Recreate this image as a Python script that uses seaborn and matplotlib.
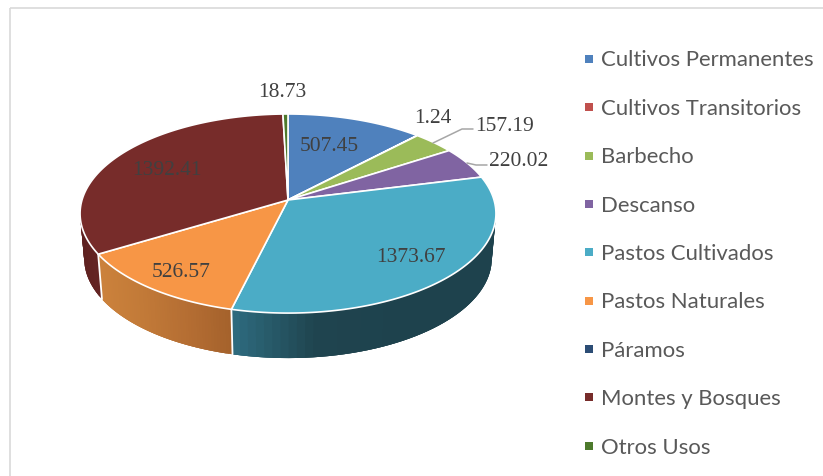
import numpy as np
import matplotlib
matplotlib.use("Agg")
import matplotlib.pyplot as plt
from matplotlib.lines import Line2D
from matplotlib.patches import Polygon, Rectangle
import seaborn as sns

categories = ["Cultivos Permanentes", "Cultivos Transitorios", "Barbecho", "Descanso",
              "Pastos Cultivados", "Pastos Naturales", "Páramos", "Montes y Bosques", "Otros Usos"]
values = [507.45, 1.24, 157.19, 220.02, 1373.67, 526.57, 0.0, 1392.41, 18.73]
labels = ["507.45", "1.24", "157.19", "220.02", "1373.67", "526.57", "", "1392.41", "18.73"]
colors = ["#4F81BD", "#C0504D", "#9BBB59", "#8064A2", "#4BACC6", "#F79646", "#2C4D75", "#772C2A", "#4D7A2C"]

# side wall shades, left to right, only for the slices that show a wall
wall_shades = {
    "Pastos Cultivados": ["#2F6E82", "#1F444F", "#1E424D", "#1E424D"],
    "Pastos Naturales": ["#CC823C", "#C27A38", "#B56E33", "#A5622C"],
    "Montes y Bosques": ["#5E2120", "#622322", "#632423", "#632423"],
}

label_pos = [(329, 146.5), (433, 118.5), (505, 126.5), (519, 161.5), (411, 258), (181, 272.5), None, (167, 170.5), (282, 92.5)]

# pie geometry in pixels, perspective tilted
cx, cy = 288, 200
a, b, k = 206, 97.7, 0.136
depth = 45
bottom_scale = 0.98

sns.set_theme(style="white")
palette = sns.color_palette(colors)

fig = plt.figure(figsize=(8.23, 4.76), dpi=100)
ax = fig.add_axes([0, 0, 1, 1])
ax.set_xlim(0, 823)
ax.set_ylim(476, 0)
ax.axis("off")


def rim(theta_deg):
    t = np.radians(theta_deg)
    d = 1 + k * np.cos(t)
    return a * np.sin(t) / d, -b * np.cos(t) / d


ax.add_patch(Rectangle((10, 7.5), 900, 600, fill=False, ec="#D9D9D9", lw=1.2, zorder=1))

bounds = np.concatenate([[0], np.cumsum(values)]) / np.sum(values) * 360

# side wall, drawn as strips so the shading can change along it
# each strip runs on under the next one, otherwise thin gaps show between them
for i, name in enumerate(categories):
    if name not in wall_shades:
        continue
    start, end = max(bounds[i], 70), min(bounds[i + 1], 290)
    th = np.linspace(start, end, 60)
    x, y = rim(th)
    x_top, y_top = cx + x, cy + y
    x_bot, y_bot = cx + x * bottom_scale, cy + y + depth
    shade = np.array([matplotlib.colors.to_rgb(c) for c in wall_shades[name]])
    pos = (x_top - x_top.min()) / (x_top.max() - x_top.min())
    for j in range(len(th) - 1):
        e = min(j + 3, len(th) - 1)
        c = [np.interp(pos[j], np.linspace(0, 1, len(shade)), shade[:, n]) for n in range(3)]
        ax.fill(np.r_[x_top[j:e + 1], x_bot[j:e + 1][::-1]],
                np.r_[y_top[j:e + 1], y_bot[j:e + 1][::-1]],
                color=c, lw=0, zorder=2)

# white seams on the wall
for th in [bounds[5], bounds[6]]:
    x, y = rim(th)
    ax.plot([cx + x, cx + x * bottom_scale], [cy + y, cy + y + depth], color="white", lw=1.3, zorder=3)

# top surface
for i, v in enumerate(values):
    if v == 0:
        continue
    th = np.linspace(bounds[i], bounds[i + 1], max(int(bounds[i + 1] - bounds[i]) * 2, 4))
    x, y = rim(th)
    pts = np.column_stack([np.r_[cx, cx + x], np.r_[cy, cy + y]])
    ax.add_patch(Polygon(pts, closed=True, fc=palette[i], ec="white", lw=1.2, joinstyle="round", zorder=4))

# leader lines
ax.plot([433, 462, 473], [143, 129, 129], color="#A6A6A6", lw=1.1, zorder=5)
ax.plot([467, 476, 487], [163, 165, 165], color="#A6A6A6", lw=1.1, zorder=5)

for lab, pos in zip(labels, label_pos):
    if pos is None:
        continue
    ax.text(pos[0], pos[1], lab, ha="center", va="center", fontsize=15.5,
            family="Liberation Serif", color="#404040", zorder=6)

handles = [Line2D([], [], ls="none", marker="s", ms=5.8, mfc=c, mec=c, mew=0) for c in palette]
ax.legend(handles, categories, loc="upper left", bbox_to_anchor=(581, 50.5), bbox_transform=ax.transData,
          frameon=False, borderpad=0, borderaxespad=0, handlelength=0.7, handletextpad=0.22,
          labelspacing=1.285, prop={"family": "Lato", "size": 15.9}, labelcolor="#595959")

fig.savefig("out.png", dpi=100)
